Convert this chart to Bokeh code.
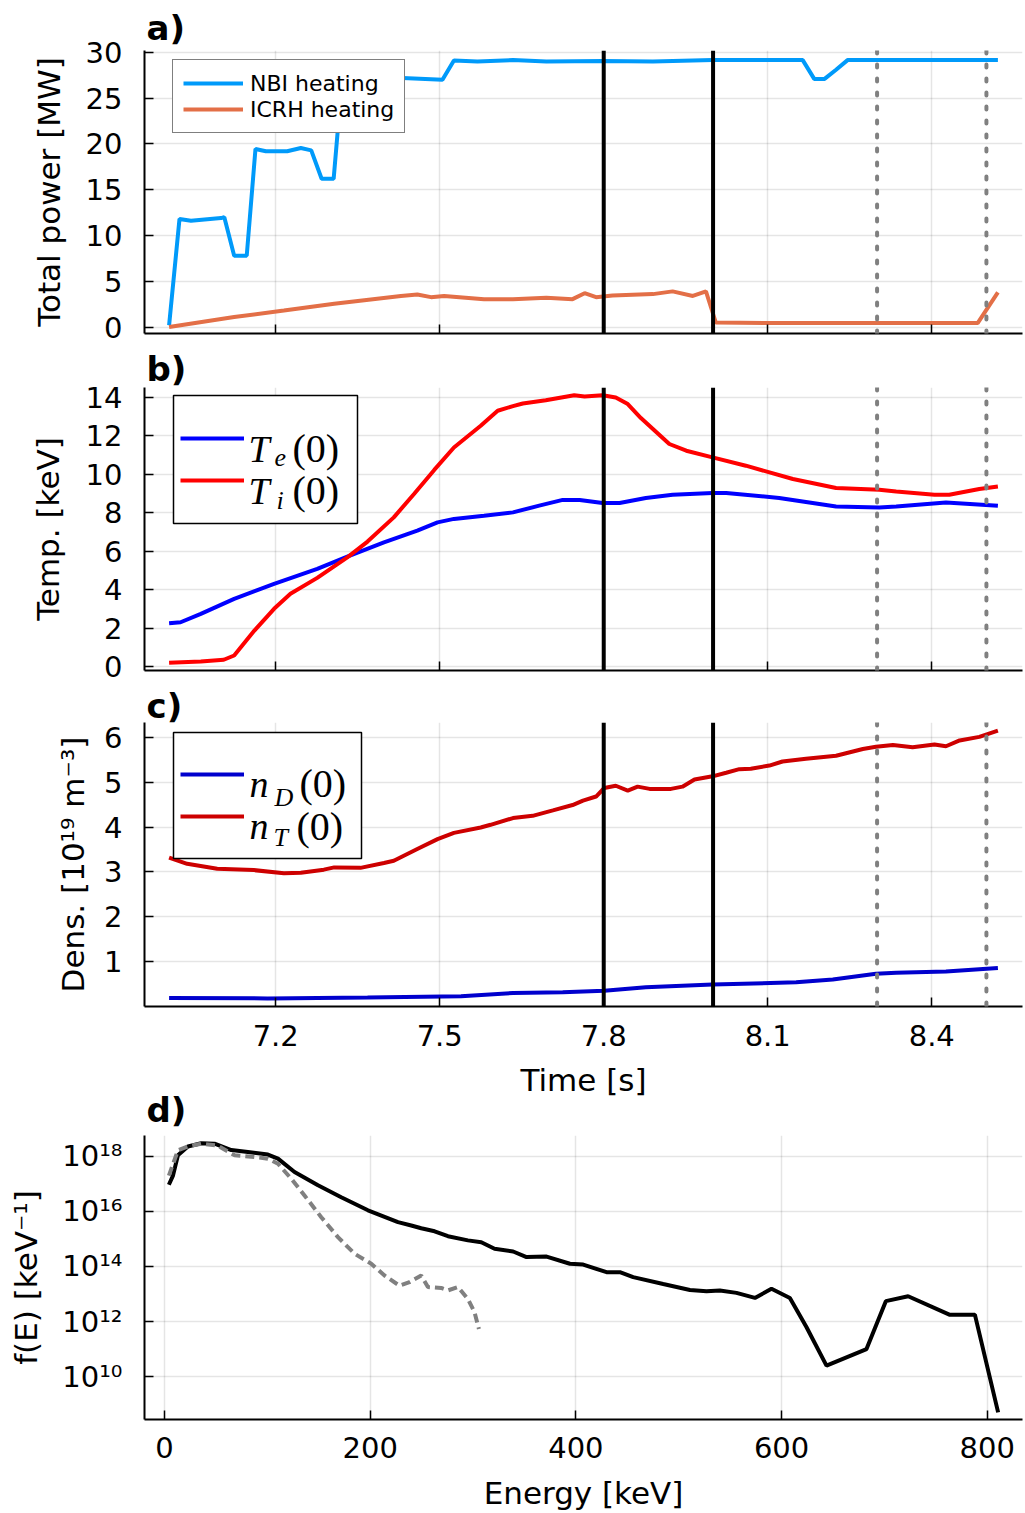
from bokeh.plotting import figure
from bokeh.models import Range1d, FixedTicker, Span, Label, Legend, LegendItem, BoxAnnotation, Title
from bokeh.layouts import column
from bokeh.embed import file_html
from bokeh.resources import INLINE
from bokeh.core.properties import value

# ---------------- data ----------------
# a) heating power [MW] vs time [s]
t_nbi = [7.005, 7.024, 7.045, 7.100, 7.106, 7.124, 7.147, 7.163, 7.182, 7.221, 7.246, 7.265,
         7.284, 7.306, 7.322, 7.432, 7.505, 7.526, 7.569, 7.634, 7.695, 7.798, 7.890, 7.999,
         8.164, 8.185, 8.204, 8.225, 8.246, 8.521]
p_nbi = [0.2, 11.8, 11.6, 11.9, 12.0, 7.8, 7.8, 19.45, 19.2, 19.2, 19.55, 19.3,
         16.2, 16.2, 27.4, 27.2, 27.0, 29.1, 29.0, 29.15, 29.0, 29.05, 29.0, 29.15,
         29.15, 27.1, 27.1, 28.1, 29.15, 29.15]
t_icrh = [7.005, 7.124, 7.215, 7.307, 7.429, 7.459, 7.484, 7.508, 7.581, 7.634, 7.695, 7.743,
          7.765, 7.786, 7.816, 7.890, 7.926, 7.963, 7.987, 8.005, 8.100, 8.300, 8.484, 8.499, 8.521]
p_icrh = [0.0, 1.1, 1.8, 2.55, 3.4, 3.55, 3.27, 3.4, 3.05, 3.05, 3.2, 3.05,
          3.7, 3.27, 3.45, 3.6, 3.9, 3.4, 3.9, 0.5, 0.45, 0.45, 0.44, 1.8, 3.8]

# b) central temperatures [keV]
t_te = [7.005, 7.026, 7.063, 7.124, 7.197, 7.276, 7.331, 7.398, 7.459, 7.496, 7.526, 7.581,
        7.634, 7.682, 7.725, 7.756, 7.798, 7.829, 7.877, 7.926, 7.999, 8.024, 8.121, 8.225,
        8.304, 8.335, 8.426, 8.521]
te = [2.25, 2.3, 2.74, 3.52, 4.3, 5.08, 5.72, 6.46, 7.07, 7.5, 7.68, 7.85,
      8.02, 8.37, 8.67, 8.67, 8.51, 8.51, 8.77, 8.94, 9.03, 9.03, 8.77, 8.33,
      8.28, 8.33, 8.54, 8.37]
t_ti = [7.005, 7.063, 7.105, 7.124, 7.161, 7.197, 7.227, 7.276, 7.331, 7.368, 7.416, 7.453,
        7.490, 7.526, 7.575, 7.606, 7.634, 7.652, 7.694, 7.746, 7.765, 7.798, 7.822, 7.844,
        7.868, 7.890, 7.920, 7.951, 7.999, 8.060, 8.146, 8.225, 8.304, 8.335, 8.405, 8.432,
        8.487, 8.521]
ti = [0.19, 0.26, 0.35, 0.57, 1.87, 3.0, 3.78, 4.61, 5.68, 6.5, 7.76, 8.98,
      10.23, 11.4, 12.53, 13.31, 13.55, 13.69, 13.86, 14.12, 14.05, 14.12, 14.0, 13.66,
      12.93, 12.36, 11.58, 11.23, 10.88, 10.45, 9.76, 9.29, 9.2, 9.11, 8.94, 8.94,
      9.24, 9.37]

# c) central densities [1e19 m^-3]
t_nd = [7.005, 7.185, 7.368, 7.539, 7.634, 7.725, 7.801, 7.877, 7.999, 8.152, 8.219, 8.298,
        8.335, 8.426, 8.521]
nd = [0.19, 0.18, 0.2, 0.23, 0.30, 0.32, 0.35, 0.43, 0.49, 0.54, 0.60, 0.73,
      0.75, 0.78, 0.86]
t_nt = [7.005, 7.038, 7.093, 7.160, 7.215, 7.246, 7.288, 7.307, 7.355, 7.398, 7.416, 7.459,
        7.496, 7.526, 7.575, 7.593, 7.634, 7.670, 7.707, 7.743, 7.762, 7.786, 7.801, 7.822,
        7.844, 7.862, 7.884, 7.923, 7.944, 7.966, 7.999, 8.024, 8.048, 8.069, 8.103, 8.127,
        8.170, 8.225, 8.274, 8.298, 8.329, 8.365, 8.405, 8.426, 8.451, 8.487, 8.521]
nt = [3.32, 3.18, 3.07, 3.04, 2.97, 2.98, 3.05, 3.1, 3.09, 3.2, 3.25, 3.51,
      3.73, 3.87, 3.99, 4.05, 4.2, 4.25, 4.37, 4.49, 4.59, 4.68, 4.87, 4.92,
      4.81, 4.9, 4.85, 4.85, 4.9, 5.06, 5.13, 5.21, 5.29, 5.3, 5.37, 5.46,
      5.52, 5.59, 5.74, 5.79, 5.83, 5.78, 5.84, 5.80, 5.93, 6.01, 6.15]

t_solid_marks = [7.8, 8.0]
t_dashed_marks = [8.3, 8.5]

# d) energy distribution f(E) [keV^-1]
e_solid = [4.2, 8.2, 13, 22.7, 35.7, 48.6, 64.9, 81.1, 100.5, 110.3, 126.4, 149.2, 171.8, 197.8,
           227, 239.9, 249.6, 262.6, 275.6, 295, 308, 320.9, 339, 352, 371.5, 394.2, 407.1,
           429.8, 442.8, 455.7, 484.9, 510.9, 527, 540, 556.2, 574.1, 590.2, 608.1, 624.3,
           643.7, 682.6, 701.4, 723.1, 763.7, 788, 810.6]
f_solid = [9.3e16, 2.0e17, 1.1e18, 2.3e18, 3.0e18, 2.9e18, 1.7e18, 1.45e18, 1.17e18, 8.3e17,
           2.7e17, 8.9e16, 3.3e16, 1.1e16, 4.1e15, 3.1e15, 2.45e15, 1.9e15, 1.26e15, 8.9e14,
           7.6e14, 4.4e14, 3.5e14, 2.2e14, 2.3e14, 1.26e14, 1.17e14, 6.2e13, 6.2e13, 4.1e13,
           2.3e13, 1.4e13, 1.26e13, 1.35e13, 1.1e13, 7.2e12, 1.55e13, 7.2e12, 6.2e11, 2.5e10,
           1.0e11, 5.5e12, 8.3e12, 1.75e12, 1.78e12, 5.0e8]
e_dash = [4.2, 13, 22.7, 35.7, 51.9, 68.1, 87.5, 100.5, 110.3, 123.2, 136.1, 152.4, 168.6,
          184.8, 201, 213.9, 228.5, 238.2, 249.6, 256.1, 269, 275.5, 285.3, 295, 301.4, 305.7]
f_dash = [2.0e17, 1.66e18, 2.3e18, 2.9e18, 2.45e18, 1.1e18, 9.5e17, 8.3e17, 5.4e17, 1.55e17,
          3.8e16, 6.2e15, 1.17e15, 2.9e14, 1.26e14, 4.7e13, 2.0e13, 2.7e13, 4.7e13, 1.8e13,
          1.66e13, 1.35e13, 1.8e13, 6.6e12, 2.2e12, 5.4e11]

x_ticks_time = [7.2, 7.5, 7.8, 8.1, 8.4]
y_ticks_a = [0, 5, 10, 15, 20, 25, 30]
y_ticks_b = [0, 2, 4, 6, 8, 10, 12, 14]
y_ticks_c = [1, 2, 3, 4, 5, 6]
x_ticks_e = [0, 200, 400, 600, 800]
y_ticks_d = [1e10, 1e12, 1e14, 1e16, 1e18]
y_tick_labels_d = ["10\u00b9\u2070", "10\u00b9\u00b2", "10\u00b9\u2074", "10\u00b9\u2076", "10\u00b9\u2078"]

# ---------------- styling helpers ----------------
FONT = "DejaVu Sans"
MATH = "Liberation Serif"


def style(p):
    p.outline_line_color = None
    for ax in p.axis:
        ax.axis_line_width = 2
        ax.axis_line_color = "black"
        ax.major_tick_in = 9
        ax.major_tick_out = 0
        ax.major_tick_line_width = 1.5
        ax.major_tick_line_color = "black"
        ax.minor_tick_line_color = None
        ax.major_label_text_font = FONT
        ax.major_label_text_font_size = "29px"
        ax.major_label_text_color = "black"
        ax.axis_label_text_font = FONT
        ax.axis_label_text_font_size = "31px"
        ax.axis_label_text_font_style = "normal"
        ax.axis_label_text_color = "black"
    p.yaxis.major_label_standoff = 22
    for g in p.grid:
        g.grid_line_color = "black"
        g.grid_line_alpha = 0.1
        g.grid_line_width = 1.5


def panel_title(p, text, standoff, place="above"):
    p.add_layout(Title(text=text, align="left", offset=2, standoff=standoff,
                       text_font=FONT, text_font_size="34px", text_font_style="bold",
                       text_color="black"), place)


def time_marks(p):
    for t in t_solid_marks:
        p.add_layout(Span(location=t, dimension="height", line_color="black", line_width=4))
    for t in t_dashed_marks:
        p.add_layout(Span(location=t, dimension="height", line_color="#808080", line_width=4,
                          line_dash="3 11", line_cap="round"))


def hide_x_labels(p):
    p.xaxis.major_label_overrides = {t: "" for t in x_ticks_time}
    p.xaxis.major_label_text_font_size = "1px"
    p.xaxis.major_label_standoff = 0
    p.xaxis.axis_label = None


def math_label(p, text, x, y, size, italic=True):
    p.add_layout(Label(x=x, y=y, x_units="screen", y_units="screen", text=text,
                       text_font=MATH, text_font_size=size,
                       text_font_style="italic" if italic else "normal",
                       text_color="black", text_baseline="alphabetic", text_align="left"))


def line_legend(p, renderers, y):
    items = [LegendItem(label=value(""), renderers=[r]) for r in renderers]
    lg = Legend(items=items, location=(36, y), padding=0, spacing=22,
                glyph_width=64, glyph_height=20, label_width=1, label_height=20,
                label_standoff=0, label_text_font_size="10px", border_line_color=None,
                background_fill_alpha=0, margin=0)
    p.add_layout(lg)


x_rng = (6.96, 8.566)

# ---------------- a) ----------------
pa = figure(width=1025, height=346, title=None, x_range=Range1d(*x_rng), y_range=Range1d(-0.7, 30.2),
            min_border_left=144, min_border_right=3, min_border_top=50, min_border_bottom=13,
            output_backend="svg", toolbar_location=None)
r_nbi = pa.line(t_nbi, p_nbi, line_color="#009AFA", line_width=4)
r_icrh = pa.line(t_icrh, p_icrh, line_color="#E36F47", line_width=4)
style(pa)
hide_x_labels(pa)
pa.xaxis.ticker = FixedTicker(ticks=x_ticks_time)
pa.xgrid.ticker = FixedTicker(ticks=x_ticks_time)
pa.yaxis.ticker = FixedTicker(ticks=y_ticks_a)
pa.ygrid.ticker = FixedTicker(ticks=y_ticks_a)
pa.yaxis.axis_label = "Total power [MW]"
pa.yaxis.axis_label_standoff = 16
time_marks(pa)
leg_a = Legend(items=[LegendItem(label="NBI heating", renderers=[r_nbi]),
                      LegendItem(label="ICRH heating", renderers=[r_icrh])],
               location=(28, 200), padding=10, spacing=0, glyph_width=60, glyph_height=24,
               label_height=26, label_width=143, label_standoff=7,
               label_text_font=FONT, label_text_font_size="22px", label_text_color="black",
               border_line_color="black", border_line_width=1.5, background_fill_color="white",
               background_fill_alpha=1, margin=0)
pa.add_layout(leg_a)
panel_title(pa, "a)", 6)

# ---------------- b) ----------------
pb = figure(width=1025, height=338, title=None, x_range=pa.x_range, y_range=Range1d(-0.21, 14.52),
            min_border_left=144, min_border_right=3, min_border_top=41, min_border_bottom=14,
            output_backend="svg", toolbar_location=None)
r_te = pb.line(t_te, te, line_color="blue", line_width=4)
r_ti = pb.line(t_ti, ti, line_color="red", line_width=4)
style(pb)
hide_x_labels(pb)
pb.xaxis.ticker = FixedTicker(ticks=x_ticks_time)
pb.xgrid.ticker = FixedTicker(ticks=x_ticks_time)
pb.yaxis.ticker = FixedTicker(ticks=y_ticks_b)
pb.ygrid.ticker = FixedTicker(ticks=y_ticks_b)
pb.yaxis.axis_label = "Temp. [keV]"
pb.yaxis.axis_label_standoff = 17
time_marks(pb)
pb.add_layout(BoxAnnotation(left=29, right=213, bottom=147, top=275,
                            left_units="screen", right_units="screen",
                            bottom_units="screen", top_units="screen",
                            fill_color="white", fill_alpha=1, line_color="black",
                            line_width=1.5, line_alpha=1))
line_legend(pb, [r_te, r_ti], 180)
math_label(pb, "T", 104, 222, "38px")
math_label(pb, "e", 130, 213, "26px")
math_label(pb, "(0)", 148, 222, "40px", italic=False)
math_label(pb, "T", 104, 180, "38px")
math_label(pb, "i", 132, 170, "26px")
math_label(pb, "(0)", 148, 180, "40px", italic=False)
panel_title(pb, "b)", -3)

# ---------------- c) ----------------
pc = figure(width=1025, height=444, title=None, x_range=pa.x_range, y_range=Range1d(0.0, 6.33),
            min_border_left=144, min_border_right=3, min_border_top=38, min_border_bottom=122,
            output_backend="svg", toolbar_location=None)
r_nd = pc.line(t_nd, nd, line_color="#0000CD", line_width=4)
r_nt = pc.line(t_nt, nt, line_color="#CD0000", line_width=4)
style(pc)
pc.xaxis.ticker = FixedTicker(ticks=x_ticks_time)
pc.xgrid.ticker = FixedTicker(ticks=x_ticks_time)
pc.yaxis.ticker = FixedTicker(ticks=y_ticks_c)
pc.ygrid.ticker = FixedTicker(ticks=y_ticks_c)
pc.xaxis.major_label_standoff = 18
pc.xaxis.axis_label = "Time [s]"
pc.xaxis.axis_label_standoff = 13
pc.yaxis.axis_label = "Dens. [10\u00b9\u2079 m\u207b\u00b3]"
pc.yaxis.axis_label_standoff = 10
time_marks(pc)
pc.add_layout(BoxAnnotation(left=29, right=217, bottom=148, top=274,
                            left_units="screen", right_units="screen",
                            bottom_units="screen", top_units="screen",
                            fill_color="white", fill_alpha=1, line_color="black",
                            line_width=1.5, line_alpha=1))
line_legend(pc, [r_nd, r_nt], 180)
math_label(pc, "n", 105, 223, "38px")
math_label(pc, "D", 130, 209, "26px")
math_label(pc, "(0)", 155, 223, "40px", italic=False)
math_label(pc, "n", 105, 181, "38px")
math_label(pc, "T", 129, 169, "26px")
math_label(pc, "(0)", 152, 180, "40px", italic=False)
panel_title(pc, "c)", -6)
# the "d)" heading of the energy panel sits in the space just below panel c
panel_title(pc, "d)", -26, place="below")

# ---------------- d) ----------------
pd_ = figure(width=1025, height=385, title=None, x_range=Range1d(-19.5, 834.3),
             y_range=Range1d(10 ** 8.44, 10 ** 18.76), y_axis_type="log",
             min_border_left=144, min_border_right=3, min_border_top=7, min_border_bottom=94,
             output_backend="svg", toolbar_location=None)
pd_.line(e_solid, f_solid, line_color="black", line_width=4)
pd_.line(e_dash, f_dash, line_color="#808080", line_width=4, line_dash="9 5")
style(pd_)
pd_.xaxis.ticker = FixedTicker(ticks=x_ticks_e)
pd_.xgrid.ticker = FixedTicker(ticks=x_ticks_e)
pd_.yaxis.ticker = FixedTicker(ticks=y_ticks_d)
pd_.ygrid.ticker = FixedTicker(ticks=y_ticks_d)
pd_.yaxis.major_label_overrides = dict(zip(y_ticks_d, y_tick_labels_d))
pd_.xaxis.major_label_standoff = 17
pd_.xaxis.axis_label = "Energy [keV]"
pd_.xaxis.axis_label_standoff = 14
pd_.yaxis.axis_label = "f(E) [keV\u207b\u00b9]"
pd_.yaxis.axis_label_standoff = 15

layout = column(pa, pb, pc, pd_, spacing=0)
open("out.html", "w").write(file_html(layout, INLINE))
